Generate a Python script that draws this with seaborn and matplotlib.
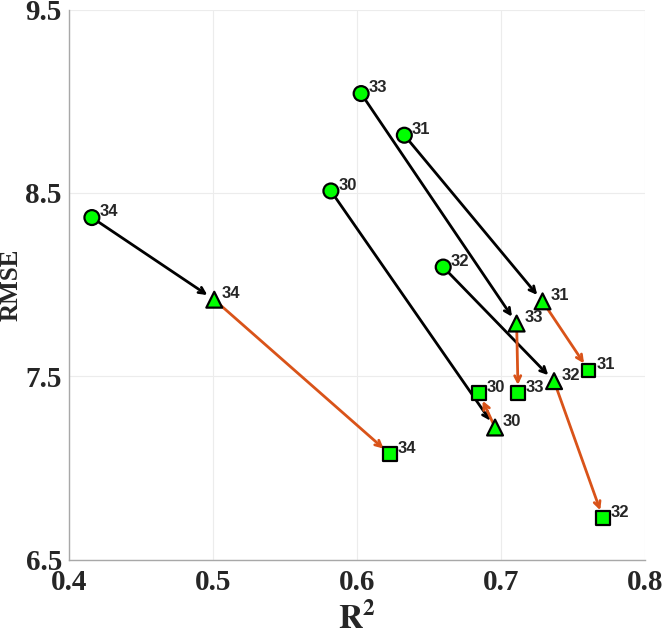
import pandas as pd
import matplotlib
matplotlib.use("Agg")
import matplotlib.pyplot as plt
import seaborn as sns

# valores: circulo -> triangulo -> quadrado
ids = [30, 31, 32, 33, 34]
r2_inicio = [0.582, 0.633, 0.660, 0.603, 0.416]
rmse_inicio = [8.511, 8.815, 8.096, 9.042, 8.366]
r2_meio = [0.696, 0.729, 0.737, 0.711, 0.501]
rmse_meio = [7.221, 7.909, 7.474, 7.788, 7.918]
r2_fim = [0.685, 0.761, 0.771, 0.712, 0.623]
rmse_fim = [7.408, 7.533, 6.727, 7.408, 7.076]

x_ticks = [0.4, 0.5, 0.6, 0.7, 0.8]
y_ticks = [6.5, 7.5, 8.5, 9.5]

dados = pd.concat([
    pd.DataFrame({'id': ids, 'r2': r2_inicio, 'rmse': rmse_inicio, 'etapa': 'inicio'}),
    pd.DataFrame({'id': ids, 'r2': r2_meio, 'rmse': rmse_meio, 'etapa': 'meio'}),
    pd.DataFrame({'id': ids, 'r2': r2_fim, 'rmse': rmse_fim, 'etapa': 'fim'}),
], ignore_index=True)

sns.set_style('whitegrid', {'grid.color': '#ececec', 'axes.edgecolor': '#a8a8a8'})
plt.rcParams['mathtext.fontset'] = 'stix'

fig = plt.figure(figsize=(6.62, 6.39), dpi=100)
ax = fig.add_axes([0.104, 0.124, 0.870, 0.861])

# setas: preto do circulo ao triangulo, laranja do triangulo ao quadrado
for i in range(len(ids)):
    ax.annotate('', xy=(r2_meio[i], rmse_meio[i]), xytext=(r2_inicio[i], rmse_inicio[i]),
                arrowprops=dict(arrowstyle='->', color='black', lw=2, shrinkA=0, shrinkB=6,
                                mutation_scale=11), zorder=1)
    ax.annotate('', xy=(r2_fim[i], rmse_fim[i]), xytext=(r2_meio[i], rmse_meio[i]),
                arrowprops=dict(arrowstyle='->', color='#D95319', lw=2, shrinkA=0, shrinkB=6,
                                mutation_scale=11), zorder=1)

sns.scatterplot(data=dados, x='r2', y='rmse', style='etapa', size='etapa',
                markers={'inicio': 'o', 'meio': '^', 'fim': 's'},
                sizes={'inicio': 115, 'meio': 130, 'fim': 95},
                color='#00ff00', edgecolor='black', linewidth=1.6, legend=False,
                zorder=3, ax=ax)

for _, linha in dados.iterrows():
    ax.annotate(str(linha['id']), (linha['r2'], linha['rmse']), xytext=(5.5, 1),
                textcoords='offset points', ha='left', va='baseline',
                fontsize=12, fontweight='bold', color='#262626',
                family='Liberation Sans', zorder=4)

ax.set_xlim(0.4, 0.8)
ax.set_ylim(6.5, 9.5)
ax.set_xticks(x_ticks)
ax.set_yticks(y_ticks)
ax.set_xticklabels([f'{v:.1f}' for v in x_ticks], family='Liberation Serif',
                   fontweight='bold', fontsize=21)
ax.set_yticklabels([f'{v:.1f}' for v in y_ticks], family='Liberation Serif',
                   fontweight='bold', fontsize=21)
ax.tick_params(direction='in', length=5, color='#a8a8a8', pad=5)
ax.tick_params(axis='x', pad=7)
for lado in ['top', 'right']:
    ax.spines[lado].set_visible(False)
for lado in ['left', 'bottom']:
    ax.spines[lado].set_linewidth(1)

ax.set_xlabel(r'$\mathbf{R^2}$', fontsize=24, labelpad=4)
ax.set_ylabel('RMSE', family='Liberation Serif', fontweight='bold', fontsize=18, labelpad=2)

fig.savefig('out.png', dpi=100)
